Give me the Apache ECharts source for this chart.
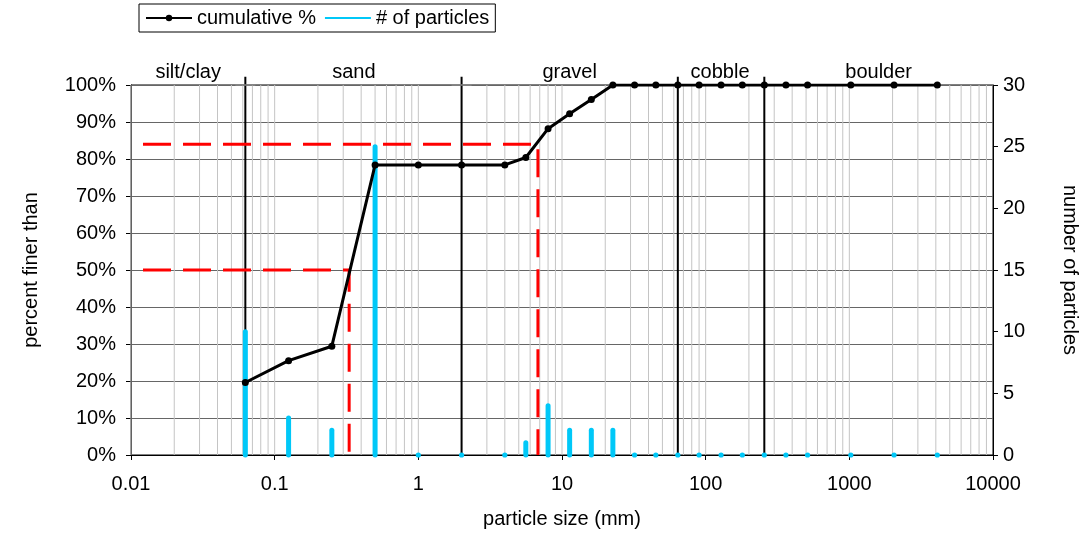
<!DOCTYPE html>
<html style="height: 100%">
<head>
  <meta charset="utf-8">
</head>
<body style="height: 100%; margin: 0; background: #fff">
  <div id="container" style="width: 1090px; height: 534px"></div>
  <script src="https://cdn.jsdelivr.net/npm/echarts@6/dist/echarts.min.js"></script>
  <script type="text/javascript">
    // particle size classes (mm), count per class, cumulative percent finer
    var sizes = [0.0625, 0.125, 0.25, 0.5, 1, 2, 4, 5.6, 8, 11.3, 16, 22.6, 32, 45, 64, 90, 128, 180, 256, 362, 512, 1024, 2048, 4096];
    var counts = [10, 3, 2, 25, 0, 0, 0, 1, 4, 2, 2, 2, 0, 0, 0, 0, 0, 0, 0, 0, 0, 0, 0, 0];
    var cumulative = [19.6, 25.5, 29.4, 78.4, 78.4, 78.4, 78.4, 80.4, 88.2, 92.2, 96.1, 100, 100, 100, 100, 100, 100, 100, 100, 100, 100, 100, 100, 100];

    // class boundaries and names
    var boundaries = [0.0625, 2, 64, 256];
    var boundaryCaps = [true, true, false, false];
    var classNames = ['silt/clay', 'sand', 'gravel', 'cobble', 'boulder'];
    var classLabelAt = [0.025, 0.356, 11.3, 126, 1600];

    // D50 and D84
    var d50 = 0.33;
    var d84 = 6.8;

    var font = 'Liberation Sans, Arial, sans-serif';
    var cyan = '#00c8f8';
    var fs = 20;

    // log grid lines 1..9 per decade
    var gridX = [];
    for (var e = -2; e < 4; e++) {
      for (var m = 1; m < 10; m++) {
        gridX.push(+(m * Math.pow(10, e)).toPrecision(3));
      }
    }

    var dom = document.getElementById('container');
    var myChart = echarts.init(dom, null, { renderer: 'canvas' });

    var redDash = { color: '#ff0000', width: 3, type: [28, 12], dashOffset: 28 };

    var option = {
      animation: false,
      textStyle: { fontFamily: font },
      grid: {
        left: 131, right: 97, top: 85, bottom: 78,
        show: true, borderColor: '#000', borderWidth: 1
      },
      legend: {
        left: 139, top: 4,
        padding: [4, 6],
        borderColor: '#000', borderWidth: 1, borderRadius: 0,
        itemWidth: 46, itemHeight: 8, itemGap: 8,
        textStyle: { fontSize: fs, color: '#000', fontFamily: font },
        data: [
          { name: 'cumulative %' },
          { name: '# of particles', itemStyle: { opacity: 0 } }
        ]
      },
      xAxis: {
        type: 'log', logBase: 10, min: 0.01, max: 10000,
        name: 'particle size (mm)', nameLocation: 'middle', nameGap: 54,
        nameTextStyle: { fontSize: fs, color: '#000' },
        axisLine: { show: true, lineStyle: { color: '#000' } },
        axisTick: { show: true, length: 5, lineStyle: { color: '#000' } },
        axisLabel: { fontSize: fs, color: '#000', margin: 19, formatter: function (v) { return String(v); } },
        splitLine: { show: false }
      },
      yAxis: [
        {
          type: 'value', min: 0, max: 100, interval: 10,
          name: 'percent finer than', nameLocation: 'middle', nameGap: 90,
          nameTextStyle: { fontSize: fs, color: '#000' },
          axisLine: { show: true, lineStyle: { color: '#000' } },
          axisTick: { show: true, length: 5, lineStyle: { color: '#000' } },
          axisLabel: { fontSize: fs, color: '#000', margin: 15, formatter: '{value}%' },
          splitLine: { show: true, lineStyle: { color: '#666', width: 1 } }
        },
        {
          type: 'value', min: 0, max: 30, interval: 5,
          name: 'number of particles', nameLocation: 'middle', nameGap: 67, nameRotate: -90,
          nameTextStyle: { fontSize: fs, color: '#000' },
          axisLine: { show: true, lineStyle: { color: '#000' } },
          axisTick: { show: true, length: 5, lineStyle: { color: '#000' } },
          axisLabel: { fontSize: fs, color: '#000', margin: 10 },
          splitLine: { show: false }
        }
      ],
      series: [
        {
          // vertical log grid
          type: 'custom', silent: true, z: 1,
          data: gridX,
          renderItem: function (params, api) {
            var x = api.value(0);
            var a = api.coord([x, 0]);
            var b = api.coord([x, 100]);
            return { type: 'line', shape: { x1: a[0], y1: a[1], x2: b[0], y2: b[1] }, style: { stroke: '#c4c4c4', lineWidth: 1 } };
          }
        },
        {
          // class boundaries
          type: 'custom', silent: true, z: 2, clip: false,
          data: boundaries.map(function (b, i) { return [b, boundaryCaps[i] ? 1 : 0]; }),
          renderItem: function (params, api) {
            var x = api.value(0);
            var a = api.coord([x, 0]);
            var b = api.coord([x, 102.2]);
            var children = [{ type: 'line', shape: { x1: a[0], y1: a[1], x2: b[0], y2: b[1] }, style: { stroke: '#000', lineWidth: 2 } }];
            if (api.value(1)) {
              var c = api.coord([x, 100]);
              children.push({ type: 'line', shape: { x1: c[0] - 10, y1: c[1], x2: c[0] + 10, y2: c[1] }, style: { stroke: '#888', lineWidth: 1.5 } });
            }
            return { type: 'group', children: children };
          }
        },
        {
          name: 'D50', type: 'line', symbol: 'none', z: 3, silent: true,
          lineStyle: redDash,
          data: [[0.01, 50], [d50, 50], [d50, 0]]
        },
        {
          name: 'D84', type: 'line', symbol: 'none', z: 3, silent: true,
          lineStyle: redDash,
          data: [[0.01, 84], [d84, 84], [d84, 0]]
        },
        {
          name: '# of particles', type: 'line', yAxisIndex: 1, symbol: 'none',
          color: cyan, lineStyle: { color: cyan, width: 4 }, data: []
        },
        {
          // particle counts as thin bars
          type: 'custom', yAxisIndex: 1, z: 4, silent: true, clip: false,
          data: sizes.map(function (s, i) { return [s, counts[i]]; }),
          renderItem: function (params, api) {
            var x = api.value(0), v = api.value(1);
            var a = api.coord([x, 0]);
            if (!v) {
              return { type: 'circle', shape: { cx: a[0], cy: a[1], r: 2.6 }, style: { fill: cyan } };
            }
            var b = api.coord([x, v]);
            return { type: 'line', shape: { x1: a[0], y1: a[1], x2: b[0], y2: b[1] }, style: { stroke: cyan, lineWidth: 5, lineCap: 'round' } };
          }
        },
        {
          name: 'cumulative %', type: 'line', z: 5,
          symbol: 'circle', symbolSize: 7,
          color: '#000',
          lineStyle: { color: '#000', width: 3 },
          itemStyle: { color: '#000' },
          data: sizes.map(function (s, i) { return [s, cumulative[i]]; })
        },
        {
          // class names above the plot
          type: 'scatter', symbolSize: 0, silent: true, z: 6,
          data: classNames.map(function (n, i) { return [classLabelAt[i], 100, n]; }),
          label: {
            show: true, position: 'top', distance: 3, opacity: 1,
            fontSize: fs, color: '#000', fontFamily: font,
            formatter: function (p) { return p.value[2]; }
          }
        }
      ]
    };

    myChart.setOption(option);
    window.addEventListener('resize', myChart.resize);
  </script>
</body>
</html>
